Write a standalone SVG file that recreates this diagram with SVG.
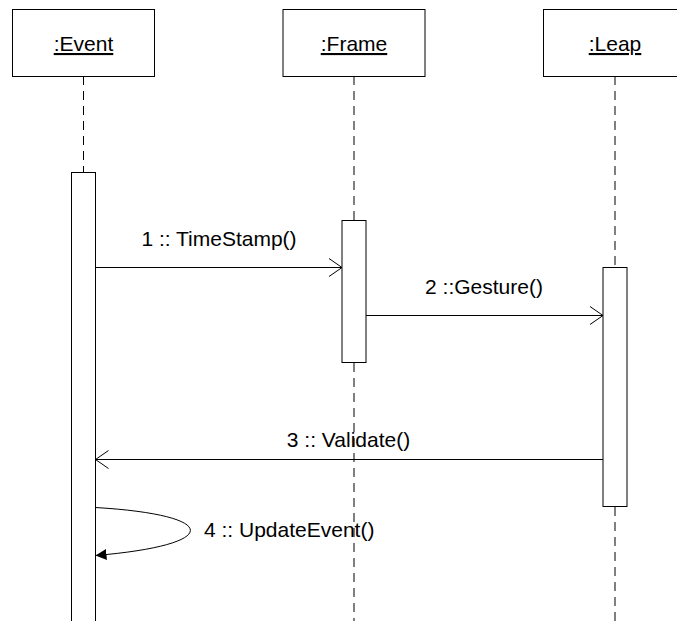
<svg xmlns="http://www.w3.org/2000/svg" width="677" height="621" viewBox="0 0 677 621">
  <style>
    .box { fill: #ffffff; stroke: #000000; stroke-width: 1; }
    .act { fill: #ffffff; stroke: #000000; stroke-width: 1; }
    .life { stroke: #000000; stroke-width: 1; stroke-dasharray: 9 6; fill: none; }
    .msg { stroke: #000000; stroke-width: 1; fill: none; }
    .lbl { font-family: "Liberation Sans", Arial, sans-serif; font-size: 21px; fill: #000000; }
    .name { text-decoration: underline; }
  </style>
  <defs>
    <marker id="open" markerUnits="userSpaceOnUse" markerWidth="15" markerHeight="20" refX="13" refY="10" orient="auto">
      <path d="M0,1 L13,10 L0,19" fill="none" stroke="#000000" stroke-width="1"/>
    </marker>
    <marker id="solid" markerUnits="userSpaceOnUse" markerWidth="12" markerHeight="12" refX="11" refY="6" orient="auto">
      <path d="M0,0.5 L11,6 L0,11.5 Z" fill="#000000"/>
    </marker>
  </defs>
  <rect width="677" height="621" fill="#ffffff"/>

  <!-- lifelines (dashed) -->
  <g id="lifelines">
    <line class="life" x1="83.5" y1="76" x2="83.5" y2="172"/>
    <line class="life" x1="354" y1="76" x2="354" y2="220"/>
    <line class="life" x1="354" y1="363" x2="354" y2="621"/>
    <line class="life" x1="615" y1="76" x2="615" y2="267"/>
    <line class="life" x1="615" y1="507" x2="615" y2="621"/>
  </g>

  <!-- participant: Event -->
  <g id="event">
    <rect class="box" x="12.5" y="9.5" width="142" height="67"/>
    <text class="lbl name" x="83.5" y="51" text-anchor="middle">:Event</text>
    <rect class="act" x="71.5" y="172.5" width="24" height="460"/>
  </g>

  <!-- participant: Frame -->
  <g id="frame">
    <rect class="box" x="283" y="9.5" width="142" height="67"/>
    <text class="lbl name" x="354" y="51" text-anchor="middle">:Frame</text>
    <rect class="act" x="342" y="220.5" width="24" height="142"/>
  </g>

  <!-- participant: Leap -->
  <g id="leap">
    <rect class="box" x="543.5" y="9.5" width="142" height="67"/>
    <text class="lbl name" x="615" y="51" text-anchor="middle">:Leap</text>
    <rect class="act" x="603" y="267.5" width="24" height="239"/>
  </g>

  <!-- messages -->
  <g id="connectors">
    <line class="msg" x1="95.5" y1="267.5" x2="342" y2="267.5" marker-end="url(#open)"/>
    <line class="msg" x1="366" y1="315.5" x2="603" y2="315.5" marker-end="url(#open)"/>
    <line class="msg" x1="603" y1="459.5" x2="95.5" y2="459.5" marker-end="url(#open)"/>
    <path class="msg" d="M95.5,507.5 C222,515 222,545 95.5,555.5" marker-end="url(#solid)"/>
  </g>

  <!-- message labels -->
  <g id="labels">
    <text class="lbl" x="219" y="246" text-anchor="middle">1 :: TimeStamp()</text>
    <text class="lbl" x="484" y="294" text-anchor="middle">2 ::Gesture()</text>
    <text class="lbl" x="348.5" y="447" text-anchor="middle">3 :: Validate()</text>
    <text class="lbl" x="204" y="537">4 :: UpdateEvent()</text>
  </g>
</svg>
